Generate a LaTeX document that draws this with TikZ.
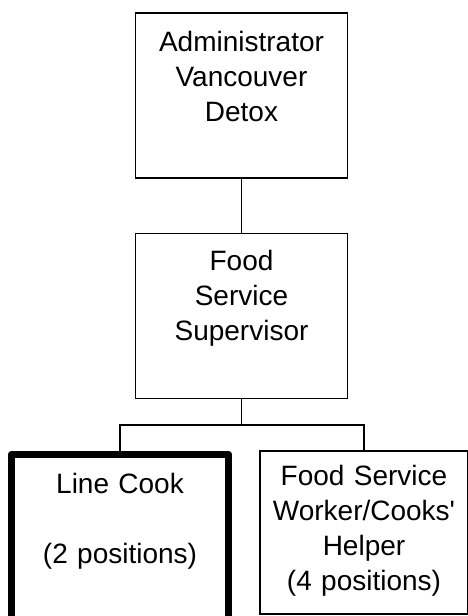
\documentclass[tikz,border=0pt]{standalone}
\usepackage{fontspec}
\setmainfont{Liberation Sans}
\usetikzlibrary{positioning}

\begin{document}
\begin{tikzpicture}[x=1pt, y=-1pt,
			orgbox/.style={draw, rectangle, line width=1.6pt, inner sep=0pt,
				align=center, font=\fontsize{28}{35}\selectfont},
			lead/.style={orgbox, line width=7pt, line join=round},
			link/.style={line width=1.6pt}
			]
			\useasboundingbox (0,0) rectangle (467,616);
			
			% Top: administration
			\node[orgbox, text width=212pt, text height=39pt, text depth=126pt, anchor=north]
				(adm) at (241.5,12) {Administrator\\Vancouver\\Detox};
			\node[orgbox, text width=212pt, text height=37pt, text depth=128pt, below=54pt of adm]
				(sup) {Food\\Service\\Supervisor};
			
			% Bottom row: kitchen staff
			\node[lead, text width=217pt, text height=39pt, text depth=150pt, anchor=north]
				(cook) at (120,450.5) {Line Cook\\[35pt](2 positions)};
			\node[orgbox, text width=208pt, text height=35pt, text depth=128pt, anchor=north]
				(helper) at (364,450) {Food Service\\Worker/Cooks\textquotesingle\\Helper\\(4 positions)};
			
			% Connectors
			\coordinate[below=26pt of sup.south] (bus);
			\draw[link] (adm.south) -- (sup.north);
			\draw[link] (sup.south) -- (bus);
			\draw[link] (cook.north) |- (bus) -| (helper.north);
			
		\end{tikzpicture}
\end{document}
